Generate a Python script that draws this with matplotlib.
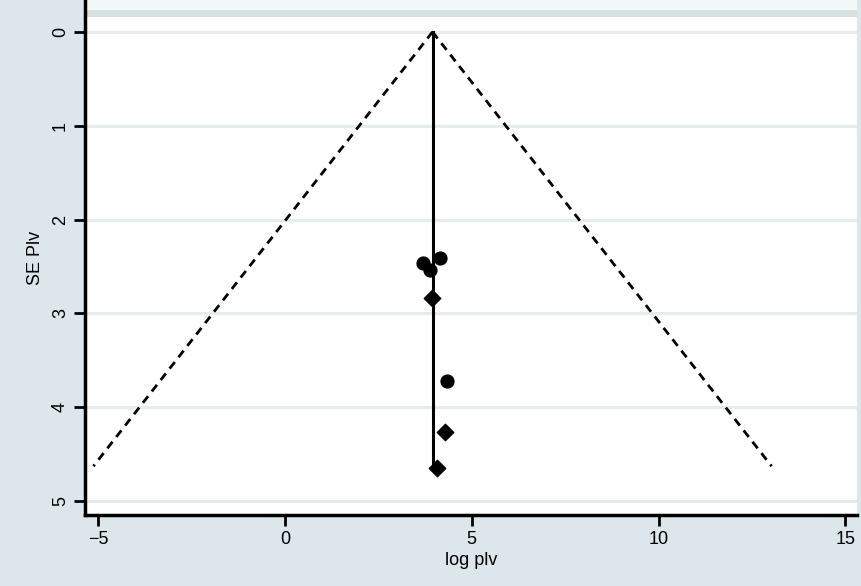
import matplotlib
matplotlib.use("Agg")
import matplotlib.pyplot as plt
import numpy as np

# Data
log_plv_circ = [3.70, 4.15, 3.88, 4.34]
se_plv_circ = [2.46, 2.41, 2.54, 3.72]
log_plv_diam = [3.94, 4.28, 4.07]
se_plv_diam = [2.84, 4.26, 4.65]
pooled = 3.95
se_max = 4.63
xticks = [-5, 0, 5, 10, 15]
yticks = [0, 1, 2, 3, 4, 5]

plt.rcParams['font.family'] = ['Liberation Sans', 'DejaVu Sans']

fig = plt.figure(figsize=(8.62, 5.86), dpi=100)
fig.patch.set_facecolor('#dde7eb')
W, H = 862, 586
ax = fig.add_axes([85 / W, (H - 515) / H, (857 - 85) / W, 515 / H])
ax.set_facecolor('white')

ax.set_xlim(-5.35, 15.31)
ax.set_ylim(5.15, -0.34)

for yv in yticks:
    ax.axhline(yv, color='#e6ecec', lw=2.2, zorder=0)
ax.axhspan(-0.34, -0.235, color='#f3f8f8', zorder=0, lw=0)
ax.axhline(-0.2, color='#d6e0df', lw=5, zorder=0)

se = np.array([0.0, se_max])
ax.plot(pooled - 1.96 * se, se, color='black', lw=2, ls=(0, (3, 2.2)))
ax.plot(pooled + 1.96 * se, se, color='black', lw=2, ls=(0, (3, 2.2)))
ax.plot([pooled, pooled], [0, se_max], color='black', lw=2.2)

ax.scatter(log_plv_circ, se_plv_circ, s=85, marker='o', color='black', zorder=3)
ax.scatter(log_plv_diam, se_plv_diam, s=70, marker='D', color='black', zorder=3)

ax.set_xticks(xticks)
ax.set_yticks(yticks)
ax.tick_params(axis='both', direction='out', length=8, width=2, labelsize=13, colors='black')
for lab in ax.get_yticklabels():
    lab.set_rotation(90)
    lab.set_va('center')
for s in ['top', 'right']:
    ax.spines[s].set_visible(False)
for s in ['left', 'bottom']:
    ax.spines[s].set_linewidth(2.5)

ax.set_xlabel('log plv', fontsize=13, labelpad=3)
ax.set_ylabel('SE Plv', fontsize=13, labelpad=6)

fig.savefig('out.png', dpi=100, facecolor=fig.get_facecolor())
